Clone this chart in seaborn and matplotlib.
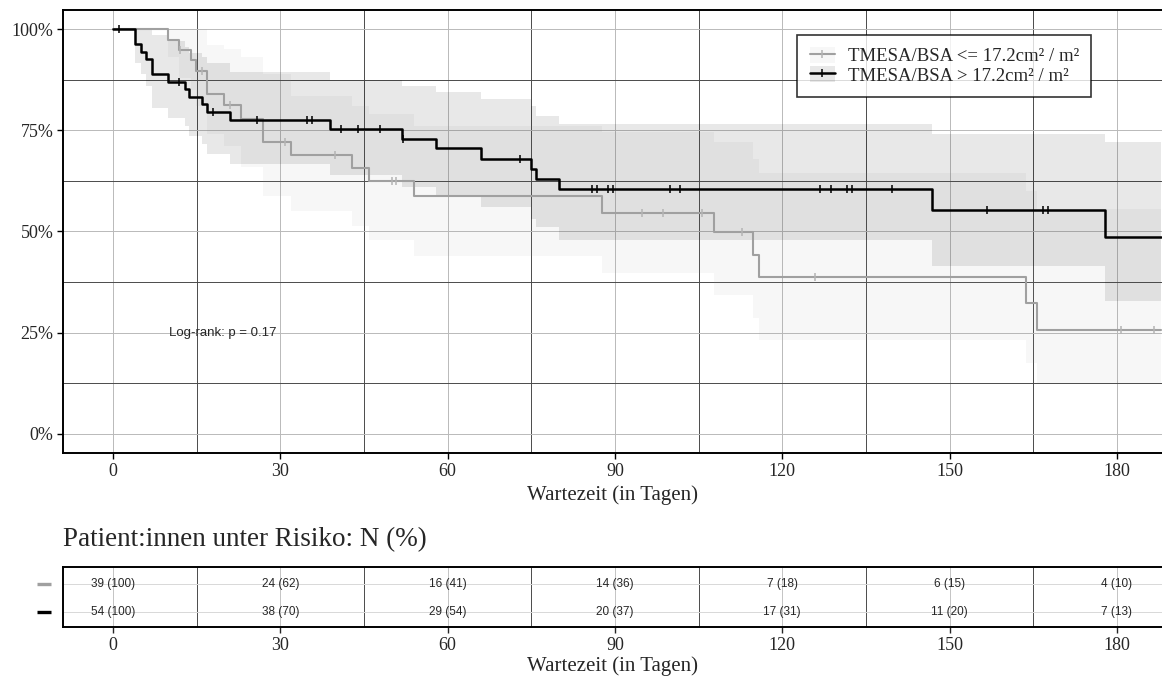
import numpy as np
import pandas as pd
import matplotlib
matplotlib.use("Agg")
import matplotlib.pyplot as plt
import seaborn as sns
from matplotlib.lines import Line2D
from matplotlib.patches import Patch
from matplotlib.legend_handler import HandlerTuple
from matplotlib.ticker import MultipleLocator, FuncFormatter

# Kaplan-Meier steps (time in days, survival fraction)
labels = ["TMESA/BSA <= 17.2cm² / m²", "TMESA/BSA > 17.2cm² / m²"]

gray_t = [0, 9.9, 11.9, 13.9, 14.9, 16.9, 19.9, 22.9, 26.9, 31.9, 42.8, 45.9, 53.9,
          87.7, 107.8, 114.8, 115.8, 163.7, 165.7, 188]
gray_s = [1.0, .974, .949, .924, .897, .839, .813, .779, .720, .689, .657, .624, .587,
          .546, .498, .443, .387, .323, .257, .257]
gray_lo = [1.0, .93, .88, .85, .81, .74, .71, .66, .587, .55, .513, .48, .439,
           .398, .344, .286, .233, .175, .125, .125]
gray_hi = [1.0, 1.0, 1.0, 1.0, 1.0, .96, .95, .93, .89, .835, .81, .79, .76,
           .745, .72, .68, .645, .60, .555, .555]
gray_cens = [12.0, 15.9, 20.9, 30.8, 39.8, 50.0, 50.7, 94.8, 98.7, 105.7, 112.7, 125.8,
             180.7, 186.7]

black_t = [0, 3.9, 5.0, 5.9, 6.9, 9.9, 12.9, 13.7, 15.9, 16.9, 20.9, 38.9, 51.8, 57.9,
           65.9, 74.9, 75.8, 79.9, 146.8, 177.8, 188]
black_s = [1.0, .963, .944, .926, .889, .870, .851, .833, .814, .795, .775, .752, .729, .705,
           .680, .655, .630, .604, .554, .486, .486]
black_lo = [1.0, .917, .889, .86, .806, .781, .761, .736, .715, .691, .666, .64, .61, .585,
            .56, .53, .51, .48, .414, .328, .328]
black_hi = [1.0, 1.0, 1.0, 1.0, .985, .97, .955, .94, .93, .915, .895, .875, .86, .845,
            .827, .81, .785, .765, .74, .72, .72]
black_cens = [1, 11.9, 17.9, 25.9, 34.8, 35.6, 40.9, 43.9, 47.8, 52.0, 72.9, 85.8, 86.7,
              88.8, 89.7, 99.8, 101.7, 126.8, 128.7, 131.7, 132.6, 139.7, 156.7, 166.7, 167.7]

# numbers at risk
risk_times = [0, 30, 60, 90, 120, 150, 180]
risk_gray = ["39 (100)", "24 (62)", "16 (41)", "14 (36)", "7 (18)", "6 (15)", "4 (10)"]
risk_black = ["54 (100)", "38 (70)", "29 (54)", "20 (37)", "17 (31)", "11 (20)", "7 (13)"]

line_cols = {labels[0]: "#a0a0a0", labels[1]: "#000000"}
cens_cols = {labels[0]: "#b4b4b4", labels[1]: "#000000"}
band_cols = {labels[0]: ("#a0a0a0", 0.08), labels[1]: ("#000000", 0.09)}
line_w = {labels[0]: 1.5, labels[1]: 1.8}

df = pd.concat([
    pd.DataFrame({"t": gray_t, "s": gray_s, "group": labels[0]}),
    pd.DataFrame({"t": black_t, "s": black_s, "group": labels[1]}),
])

sns.set_style("white")
plt.rcParams["font.family"] = ["Liberation Serif", "DejaVu Serif"]

fig = plt.figure(figsize=(11.62, 6.82), dpi=100)
ax = fig.add_axes([63 / 1162, 229 / 682, 1099 / 1162, 443 / 682])

for lab, t, lo, hi in [(labels[0], gray_t, gray_lo, gray_hi), (labels[1], black_t, black_lo, black_hi)]:
    c, a = band_cols[lab]
    ax.fill_between(t, lo, hi, step="post", color=c, alpha=a, lw=0, zorder=1)

sns.lineplot(data=df, x="t", y="s", hue="group", palette=line_cols, estimator=None,
             drawstyle="steps-post", legend=False, ax=ax, zorder=3)
for line, lab in zip(ax.get_lines(), labels):
    line.set_linewidth(line_w[lab])

for lab, t, s, cens in [(labels[0], gray_t, gray_s, gray_cens), (labels[1], black_t, black_s, black_cens)]:
    idx = np.searchsorted(t, cens, side="right") - 1
    ax.plot(cens, np.array(s)[idx], ls="none", marker="|", ms=6, mew=1.1,
            color=cens_cols[lab], zorder=4)

ax.text(10, 0.25, "Log-rank: p = 0.17", family="Liberation Sans", fontsize=9.5,
        ha="left", va="center")

ax.set_xlim(-8.97, 188.1)
ax.set_ylim(-0.047, 1.047)
ax.xaxis.set_major_locator(MultipleLocator(30))
ax.xaxis.set_minor_locator(MultipleLocator(15))
ax.yaxis.set_major_locator(MultipleLocator(0.25))
ax.yaxis.set_minor_locator(MultipleLocator(0.125))
ax.yaxis.set_major_formatter(FuncFormatter(lambda v, p: f"{int(round(v * 100))}%"))
ax.grid(which="major", color="#b9b9b9", lw=0.7)
ax.grid(which="minor", color="#4a4a4a", lw=0.7)
ax.set_axisbelow(True)
ax.tick_params(which="major", length=4, width=1, color="black", labelsize=13, pad=3,
               bottom=True, left=True)
ax.tick_params(which="minor", length=0)
ax.set_xlabel("Wartezeit (in Tagen)", fontsize=15, labelpad=4)
ax.set_ylabel("")
for side in ["left", "top", "bottom"]:
    ax.spines[side].set_color("black")
    ax.spines[side].set_linewidth(1.4)
ax.spines["right"].set_visible(False)

handles = []
for lab in labels:
    c, a = band_cols[lab]
    handles.append((Patch(facecolor=c, alpha=a, edgecolor="none"),
                    Line2D([], [], color=line_cols[lab], lw=line_w[lab],
                           marker="|", ms=6, mew=1.1, markeredgecolor=cens_cols[lab])))
leg = ax.legend(handles, labels, handler_map={tuple: HandlerTuple(ndivide=1, pad=0)},
                loc="center", bbox_to_anchor=(0.802, 0.874), fontsize=13.5,
                frameon=True, fancybox=False, borderpad=0.65, labelspacing=0.05,
                handlelength=1.35, handleheight=0.9, handletextpad=0.7, borderaxespad=0)
leg.get_frame().set_edgecolor("black")
leg.get_frame().set_linewidth(1.2)
leg.set_zorder(5)

# risk table
rax = fig.add_axes([63 / 1162, 55 / 682, 1099 / 1162, 60 / 682])
rows = pd.DataFrame({"t": risk_times * 2, "row": [2] * 7 + [1] * 7,
                     "txt": risk_gray + risk_black})
for _, r in rows.iterrows():
    rax.text(r["t"], r["row"], r["txt"], ha="center", va="center",
             family="Liberation Sans", fontsize=8.5)
rax.set_xlim(-8.97, 188.1)
rax.set_ylim(0.47, 2.6)
rax.xaxis.set_major_locator(MultipleLocator(30))
rax.xaxis.set_minor_locator(MultipleLocator(15))
rax.set_yticks([2, 1], ["", ""])
# coloured strata keys left of the table
for row, lab in [(2, labels[0]), (1, labels[1])]:
    rax.plot([-0.0177], [row], marker="_", ms=9.5, mew=2.4, color=line_cols[lab],
             transform=rax.get_yaxis_transform(), clip_on=False)
rax.grid(which="major", axis="x", color="#c4c4c4", lw=0.7)
rax.grid(which="minor", axis="x", color="#4a4a4a", lw=0.7)
rax.grid(which="major", axis="y", color="#d8d8d8", lw=0.7)
rax.set_axisbelow(True)
rax.tick_params(axis="x", which="major", length=4, width=1, labelsize=13, pad=3, bottom=True)
rax.tick_params(axis="y", length=0)
rax.tick_params(which="minor", length=0)
rax.set_xlabel("Wartezeit (in Tagen)", fontsize=15, labelpad=2)
for side in ["left", "top", "bottom"]:
    rax.spines[side].set_color("black")
    rax.spines[side].set_linewidth(1.4)
rax.spines["right"].set_visible(False)

fig.text(63 / 1162, 1 - 540 / 682, "Patient:innen unter Risiko: N (%)", fontsize=19.5,
         ha="left", va="center")

fig.savefig("out.png", dpi=100)
